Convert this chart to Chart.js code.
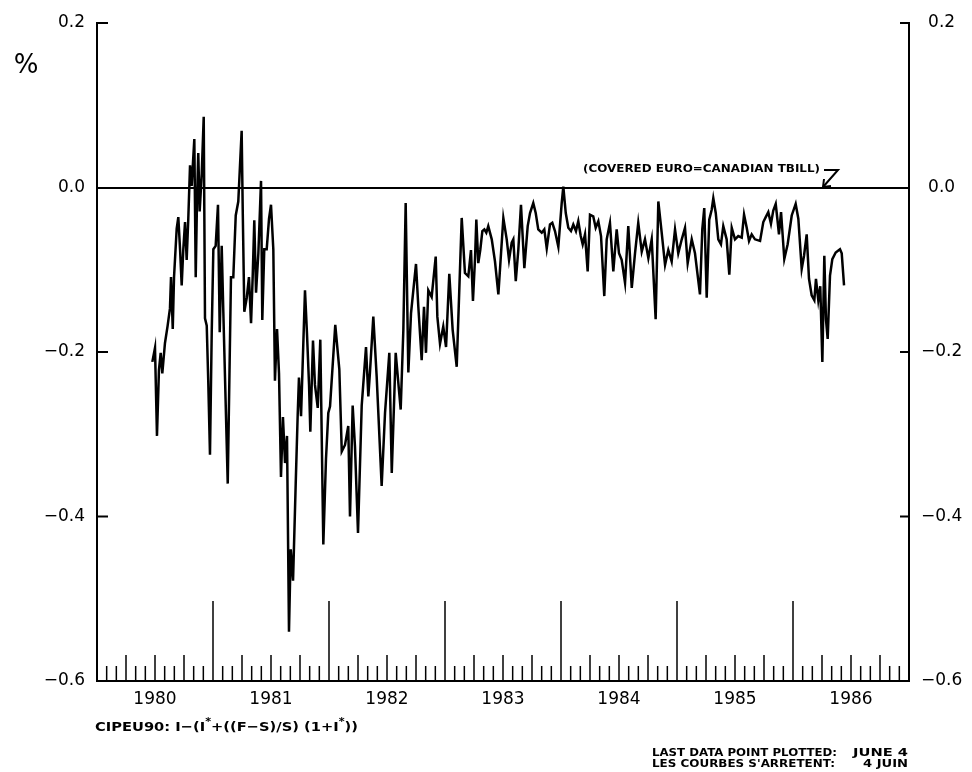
<!DOCTYPE html>
<html>
<head>
<meta charset="utf-8">
<script src="https://cdn.jsdelivr.net/npm/chart.js@4.4.1/dist/chart.umd.min.js"></script>
<style>
  html, body { margin: 0; padding: 0; background: #fff; }
  #wrap { width: 972px; height: 772px; position: relative; }
</style>
</head>
<body>
<div id="wrap"><canvas id="chart"></canvas></div>
<script>
// weekly spread, [decimal year, %]
const y1980 = [
  [1980.477, -0.212], [1980.500, -0.195], [1980.517, -0.302], [1980.534, -0.222], [1980.549, -0.201],
  [1980.563, -0.226], [1980.586, -0.189], [1980.609, -0.168], [1980.629, -0.147], [1980.638, -0.109],
  [1980.653, -0.172], [1980.664, -0.109], [1980.687, -0.050], [1980.701, -0.036], [1980.716, -0.075],
  [1980.730, -0.119], [1980.744, -0.075], [1980.759, -0.042], [1980.773, -0.088], [1980.787, -0.038],
  [1980.802, 0.027], [1980.816, 0.002], [1980.839, 0.059], [1980.851, -0.109], [1980.862, -0.017],
  [1980.873, 0.042], [1980.885, -0.029], [1980.903, 0.017], [1980.920, 0.086], [1980.931, -0.159],
  [1980.946, -0.168], [1980.959, -0.235], [1980.974, -0.325], [1980.989, -0.176]
];
const y1981 = [
  [1981.003, -0.075], [1981.023, -0.071], [1981.043, -0.021], [1981.058, -0.176], [1981.075, -0.071],
  [1981.089, -0.151], [1981.127, -0.360], [1981.155, -0.109], [1981.175, -0.109], [1981.196, -0.034],
  [1981.218, -0.017], [1981.247, 0.069], [1981.256, -0.025], [1981.270, -0.151], [1981.291, -0.134],
  [1981.310, -0.109], [1981.328, -0.165], [1981.342, -0.109], [1981.356, -0.040], [1981.371, -0.128],
  [1981.391, -0.080], [1981.414, 0.008], [1981.425, -0.161], [1981.442, -0.075], [1981.463, -0.075],
  [1981.483, -0.038], [1981.500, -0.021], [1981.520, -0.075], [1981.534, -0.235], [1981.552, -0.172],
  [1981.569, -0.226], [1981.586, -0.352], [1981.603, -0.279], [1981.621, -0.335], [1981.638, -0.302],
  [1981.655, -0.540], [1981.670, -0.440], [1981.690, -0.478], [1981.713, -0.360], [1981.730, -0.277],
  [1981.741, -0.231], [1981.759, -0.278], [1981.793, -0.125], [1981.810, -0.177], [1981.828, -0.240],
  [1981.839, -0.297], [1981.862, -0.186], [1981.879, -0.240], [1981.903, -0.268], [1981.925, -0.185],
  [1981.951, -0.434], [1981.974, -0.330], [1981.994, -0.274]
];
const y1982 = [
  [1982.009, -0.266], [1982.054, -0.167], [1982.089, -0.221], [1982.110, -0.321], [1982.138, -0.313],
  [1982.166, -0.290], [1982.181, -0.400], [1982.204, -0.265], [1982.224, -0.315], [1982.250, -0.420],
  [1982.282, -0.265], [1982.319, -0.194], [1982.339, -0.254], [1982.353, -0.225], [1982.382, -0.157],
  [1982.411, -0.230], [1982.454, -0.363], [1982.483, -0.274], [1982.520, -0.201], [1982.541, -0.347],
  [1982.575, -0.201], [1982.618, -0.270], [1982.641, -0.173], [1982.661, -0.019], [1982.684, -0.225],
  [1982.707, -0.153], [1982.750, -0.093], [1982.770, -0.145], [1982.799, -0.210], [1982.819, -0.145],
  [1982.836, -0.201], [1982.856, -0.125], [1982.885, -0.133], [1982.920, -0.084], [1982.934, -0.157],
  [1982.957, -0.190], [1982.985, -0.169]
];
const y1983 = [
  [1983.009, -0.194], [1983.037, -0.105], [1983.066, -0.173], [1983.101, -0.218], [1983.144, -0.037],
  [1983.172, -0.104], [1983.201, -0.108], [1983.224, -0.076], [1983.241, -0.138], [1983.259, -0.086],
  [1983.270, -0.039], [1983.287, -0.092], [1983.304, -0.076], [1983.322, -0.053], [1983.339, -0.051],
  [1983.356, -0.055], [1983.373, -0.047], [1983.403, -0.063], [1983.431, -0.090], [1983.460, -0.130],
  [1983.483, -0.080], [1983.503, -0.037], [1983.532, -0.063], [1983.552, -0.088], [1983.575, -0.067],
  [1983.589, -0.063], [1983.610, -0.114], [1983.632, -0.076], [1983.655, -0.021], [1983.684, -0.098],
  [1983.713, -0.047], [1983.733, -0.031], [1983.761, -0.019], [1983.782, -0.031], [1983.804, -0.051],
  [1983.834, -0.055], [1983.856, -0.051], [1983.877, -0.074], [1983.905, -0.045], [1983.925, -0.043],
  [1983.948, -0.053], [1983.977, -0.072]
];
const y1984 = [
  [1984.006, -0.019], [1984.020, 0.001], [1984.041, -0.031], [1984.063, -0.049], [1984.086, -0.053],
  [1984.106, -0.045], [1984.129, -0.053], [1984.149, -0.041], [1984.170, -0.059], [1984.187, -0.069],
  [1984.207, -0.057], [1984.230, -0.102], [1984.250, -0.033], [1984.278, -0.035], [1984.299, -0.049],
  [1984.322, -0.041], [1984.345, -0.059], [1984.373, -0.132], [1984.394, -0.063], [1984.422, -0.043],
  [1984.451, -0.102], [1984.480, -0.051], [1984.500, -0.080], [1984.523, -0.088], [1984.552, -0.116],
  [1984.580, -0.047], [1984.610, -0.122], [1984.638, -0.080], [1984.666, -0.043], [1984.696, -0.078],
  [1984.724, -0.063], [1984.753, -0.086], [1984.782, -0.063], [1984.816, -0.160], [1984.839, -0.017],
  [1984.868, -0.055], [1984.897, -0.094], [1984.925, -0.076], [1984.954, -0.090], [1984.983, -0.051]
];
const y1985 = [
  [1985.011, -0.080], [1985.041, -0.063], [1985.069, -0.049], [1985.092, -0.092], [1985.127, -0.063],
  [1985.155, -0.080], [1985.198, -0.130], [1985.218, -0.051], [1985.235, -0.025], [1985.256, -0.134],
  [1985.278, -0.039], [1985.299, -0.027], [1985.313, -0.013], [1985.334, -0.031], [1985.356, -0.063],
  [1985.379, -0.069], [1985.399, -0.047], [1985.428, -0.063], [1985.451, -0.106], [1985.472, -0.049],
  [1985.500, -0.063], [1985.528, -0.059], [1985.558, -0.061], [1985.578, -0.033], [1985.601, -0.049],
  [1985.621, -0.065], [1985.644, -0.057], [1985.672, -0.063], [1985.716, -0.065], [1985.744, -0.042],
  [1985.765, -0.036], [1985.787, -0.030], [1985.810, -0.044], [1985.830, -0.028], [1985.851, -0.020],
  [1985.865, -0.038], [1985.879, -0.057], [1985.897, -0.030], [1985.925, -0.087], [1985.954, -0.069],
  [1985.989, -0.034]
];
const y1986 = [
  [1986.023, -0.020], [1986.046, -0.038], [1986.075, -0.099], [1986.095, -0.083], [1986.118, -0.057],
  [1986.138, -0.111], [1986.161, -0.131], [1986.184, -0.137], [1986.198, -0.111], [1986.218, -0.137],
  [1986.235, -0.120], [1986.253, -0.212], [1986.270, -0.083], [1986.284, -0.160], [1986.299, -0.184],
  [1986.319, -0.107], [1986.339, -0.087], [1986.368, -0.079], [1986.405, -0.075], [1986.420, -0.080],
  [1986.440, -0.119]
];

const yearLabels = ['1980', '1981', '1982', '1983', '1984', '1985', '1986'];
const yTickValues = [0.2, 0.0, -0.2, -0.4, -0.6];
const unitLabel = '%';
const zeroNote = '(COVERED EURO=CANADIAN TBILL)';
const formulaParts = [['CIPEU90: I\u2212(I', false], ['*', true], ['+((F\u2212S)/S) (1+I', false], ['*', true], ['))', false]];
const footLeft = ['LAST DATA POINT PLOTTED:', 'LES COURBES S\'ARRETENT:'];
const footRight = ['JUNE 4', '4 JUIN'];

const points = [...y1980, ...y1981, ...y1982, ...y1983, ...y1984, ...y1985, ...y1986]
  .map(([t, v]) => ({ x: t, y: v }));

const FONT = 'DejaVu Sans';
Chart.defaults.font.family = FONT;
Chart.defaults.color = '#000';

const fmt = v => Math.abs(v) < 1e-9 ? '0.0' : v.toFixed(1).replace('-', '\u2212');

// draws a run of text squeezed/stretched to a given width
function drawFitted(ctx, parts, x, y, width, font, supFont) {
  let natural = 0;
  parts.forEach(([s, sup]) => { ctx.font = sup ? supFont : font; natural += ctx.measureText(s).width; });
  ctx.save();
  ctx.translate(x, y);
  ctx.scale(width / natural, 1);
  ctx.textAlign = 'left';
  ctx.textBaseline = 'middle';
  let cx = 0;
  parts.forEach(([s, sup]) => {
    ctx.font = sup ? supFont : font;
    ctx.fillText(s, cx, sup ? -6 : 0);
    cx += ctx.measureText(s).width;
  });
  ctx.restore();
}

const decorations = {
  id: 'decorations',
  afterDraw(chart) {
    const { ctx, chartArea: a, scales: { x, y } } = chart;
    const line = (x1, y1, x2, y2) => { ctx.beginPath(); ctx.moveTo(x1, y1); ctx.lineTo(x2, y2); ctx.stroke(); };
    ctx.save();
    ctx.strokeStyle = '#000';
    ctx.fillStyle = '#000';

    // monthly ticks pointing up from the time axis
    ctx.lineWidth = 1.5;
    for (let m = 1; m < 84; m++) {
      const px = x.getPixelForValue(1980 + m / 12);
      const len = m % 12 === 0 ? 80 : (m % 3 === 0 ? 26 : 15);
      line(px, a.bottom, px, a.bottom - len);
    }
    // short inward ticks on both value axes
    ctx.lineWidth = 2;
    yTickValues.forEach(v => {
      if (Math.abs(v) < 1e-9 || v <= -0.6) return;
      const py = y.getPixelForValue(v);
      line(a.left, py, a.left + 11, py);
      line(a.right, py, a.right - 9, py);
    });

    // unit sign
    ctx.font = '26px ' + FONT;
    ctx.textAlign = 'center';
    ctx.textBaseline = 'middle';
    ctx.fillText(unitLabel, 26, 66);

    // zero line note + arrow
    drawFitted(ctx, [[zeroNote, false]], 583, 169, 237, 'bold 11px ' + FONT, '');
    ctx.lineWidth = 2;
    ctx.beginPath();
    ctx.moveTo(824, 170); ctx.lineTo(838, 170); ctx.lineTo(823, 187);
    ctx.stroke();
    ctx.beginPath();
    ctx.moveTo(824, 179); ctx.lineTo(823, 187); ctx.lineTo(831, 186);
    ctx.stroke();

    // formula under the axis
    drawFitted(ctx, formulaParts, 95, 728, 263, 'bold 13px ' + FONT, 'bold 10px ' + FONT);

    // last data point note
    drawFitted(ctx, [[footLeft[0], false]], 652, 753.5, 185, 'bold 10px ' + FONT, '');
    drawFitted(ctx, [[footLeft[1], false]], 652, 764, 183, 'bold 10px ' + FONT, '');
    drawFitted(ctx, [[footRight[0], false]], 853, 753.5, 55, 'bold 10px ' + FONT, '');
    drawFitted(ctx, [[footRight[1], false]], 863, 764, 45, 'bold 10px ' + FONT, '');
    ctx.restore();
  }
};

new Chart(document.getElementById('chart'), {
  type: 'line',
  data: {
    datasets: [{
      label: 'CIPEU90',
      data: points,
      borderColor: '#000',
      borderWidth: 2.5,
      pointRadius: 0,
      tension: 0,
      fill: false
    }]
  },
  options: {
    responsive: true,
    maintainAspectRatio: false,
    animation: false,
    layout: { autoPadding: false, padding: { top: 23, left: 0, right: 0, bottom: 0 } },
    plugins: { legend: { display: false }, tooltip: { enabled: false } },
    scales: {
      x: {
        type: 'linear',
        min: 1980,
        max: 1987,
        afterBuildTicks: s => { s.ticks = yearLabels.map((_, i) => ({ value: 1980.5 + i })); },
        afterFit: s => { s.height = 91; },
        grid: { display: false, drawTicks: false },
        border: { display: true, color: '#000', width: 2 },
        ticks: {
          padding: 8,
          font: { size: 17 },
          color: '#000',
          maxRotation: 0,
          callback: (v, i) => yearLabels[i]
        }
      },
      y: {
        position: 'left',
        min: -0.6,
        max: 0.2,
        afterBuildTicks: s => { s.ticks = yTickValues.map(v => ({ value: v })); },
        afterFit: s => { s.width = 97; },
        grid: {
          drawTicks: false,
          lineWidth: 2,
          color: c => (c.tick && Math.abs(c.tick.value) < 1e-9) ? '#000' : 'rgba(0,0,0,0)'
        },
        border: { display: true, color: '#000', width: 2 },
        ticks: { padding: 12, font: { size: 17 }, color: '#000', callback: v => fmt(v) }
      },
      y2: {
        position: 'right',
        min: -0.6,
        max: 0.2,
        afterBuildTicks: s => { s.ticks = yTickValues.map(v => ({ value: v })); },
        afterFit: s => { s.width = 63; },
        grid: { drawOnChartArea: false, drawTicks: false },
        border: { display: true, color: '#000', width: 2 },
        ticks: { padding: 12, crossAlign: 'center', font: { size: 17 }, color: '#000', callback: v => fmt(v) }
      }
    }
  },
  plugins: [decorations]
});
</script>
</body>
</html>
